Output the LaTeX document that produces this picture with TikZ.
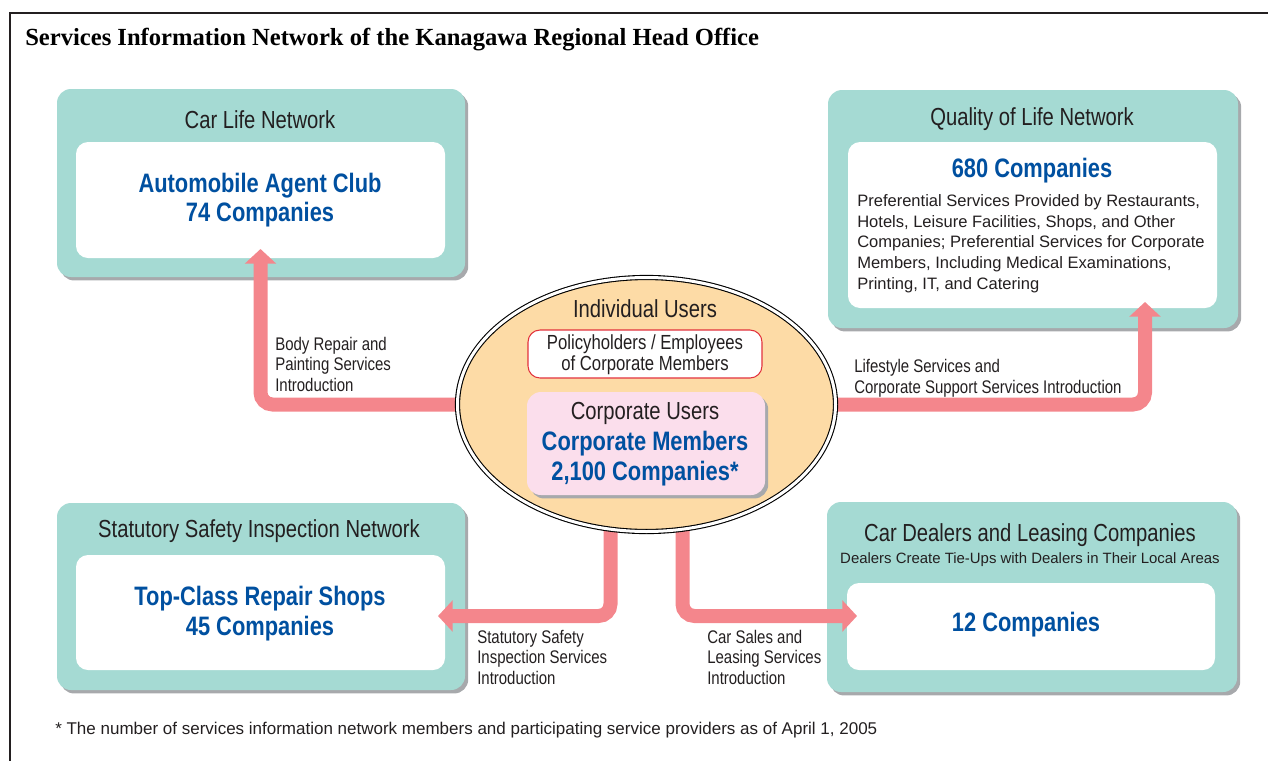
\documentclass[tikz,border=0pt]{standalone}
\usepackage{fontspec}
\setmainfont{Liberation Sans}[FakeStretch=0.82]
\newfontfamily\widefont{Liberation Sans}
\newfontfamily\titlefont{Liberation Serif}
\usetikzlibrary{calc,shapes.geometric,shadows,arrows.meta}
\edef\pxl{0.75pt}
\definecolor{netteal}{RGB}{165,218,211}
\definecolor{shadowgrey}{RGB}{167,169,172}
\definecolor{flowpink}{RGB}{244,134,140}
\definecolor{hubpeach}{RGB}{253,219,166}
\definecolor{corppink}{RGB}{251,222,236}
\definecolor{polred}{RGB}{226,50,60}
\definecolor{numblue}{RGB}{0,80,160}
\definecolor{textdark}{RGB}{35,31,32}
\tikzset{
  netbox/.style={fill=netteal, rounded corners=14*\pxl, inner sep=0, outer sep=0,
    general shadow={fill=shadowgrey, shadow xshift=2.4pt, shadow yshift=-2.6pt}},
  netinner/.style={fill=white, rounded corners=12*\pxl, inner sep=0, outer sep=0},
  nettitle/.style={text=textdark, inner sep=0, font=\fontsize{18.5pt}{21pt}\selectfont},
  bignum/.style={text=numblue, inner sep=0, align=center, font=\bfseries\fontsize{20pt}{22pt}\selectfont},
  smalltext/.style={text=textdark, inner sep=0, align=left, font=\fontsize{13.7pt}{15.3pt}\selectfont},
  plaintext/.style={text=textdark, inner sep=0, align=left, font=\widefont\fontsize{12.4pt}{15.5pt}\selectfont},
  flow/.style={draw=flowpink, line width=14*\pxl, rounded corners=9pt, -{Triangle[width=23pt,length=11pt]}}
}
\pgfdeclarelayer{front}
\pgfsetlayers{main,front}

\begin{document}
\begin{tikzpicture}[x=0.75pt, y=-0.75pt]
\useasboundingbox (0,0) rectangle (1268,761);
\draw[textdark, line width=1.1pt] (1268,13) -| (10,761);
\node[anchor=base west, inner sep=0, text=black, font=\titlefont\bfseries\fontsize{18.45pt}{20pt}\selectfont] (title) at (25,45.5) {Services Information Network of the Kanagawa Regional Head Office};

% car life network
\node[netbox, minimum width=408*\pxl, minimum height=188*\pxl] (carlife) at (261,183) {};
\node[netinner, minimum width=369*\pxl, minimum height=116*\pxl] (carlifein) at (260.5,200) {};
\node[nettitle, anchor=base] (carlifetitle) at (260,128) {Car Life Network};
\node[bignum, anchor=base] (carlifenum) at (260,221.7) {Automobile Agent Club\\74 Companies};

% quality of life network
\node[netbox, minimum width=410*\pxl, minimum height=238*\pxl] (qol) at (1033,209) {};
\node[netinner, minimum width=369*\pxl, minimum height=166*\pxl] (qolin) at (1032.5,225) {};
\node[nettitle, anchor=base] (qoltitle) at (1032,125) {Quality of Life Network};
\node[bignum, anchor=base] (qolnum) at (1032,177.7) {680 Companies};
\node[plaintext, anchor=base west] (qoltext) at (857,289.3) {Preferential Services Provided by Restaurants,\\Hotels, Leisure Facilities, Shops, and Other\\Companies; Preferential Services for Corporate\\Members, Including Medical Examinations,\\Printing, IT, and Catering};

% statutory safety inspection network
\node[netbox, minimum width=408*\pxl, minimum height=187*\pxl] (safety) at (261,596.5) {};
\node[netinner, minimum width=369*\pxl, minimum height=115*\pxl] (safetyin) at (260.5,612.5) {};
\node[nettitle, anchor=base] (safetytitle) at (259,537) {Statutory Safety Inspection Network};
\node[bignum, anchor=base] (safetynum) at (260,635) {Top-Class Repair Shops\\45 Companies};

% car dealers and leasing companies
\node[netbox, minimum width=410*\pxl, minimum height=190*\pxl] (dealer) at (1032,597) {};
\node[netinner, minimum width=368*\pxl, minimum height=87*\pxl] (dealerin) at (1031,626.5) {};
\node[nettitle, anchor=base] (dealertitle) at (1030,541.7) {Car Dealers and Leasing Companies};
\node[plaintext, anchor=base, font=\widefont\fontsize{11.2pt}{13pt}\selectfont] (dealersub) at (1030,563.3) {Dealers Create Tie-Ups with Dealers in Their Local Areas};
\node[bignum, anchor=base] (dealernum) at (1026,631.7) {12 Companies};

% users in the middle
\begin{pgfonlayer}{front}
\node[ellipse, draw=black, line width=1.1*\pxl, double=white, double distance=3*\pxl, fill=hubpeach,
  minimum width=378*\pxl, minimum height=254*\pxl, inner sep=0, outer sep=0] (users) at (646.5,404.5) {};
\node[nettitle, anchor=base] (indiv) at (645,317.7) {Individual Users};
\node[draw=polred, line width=0.8pt, fill=white, rounded corners=12*\pxl, minimum width=234*\pxl, minimum height=48*\pxl, inner sep=0] (polbox) at (645,354) {};
\node[smalltext, anchor=base, align=center, font=\fontsize{15.3pt}{15.75pt}\selectfont] (poltext) at (645,370) {Policyholders / Employees\\of Corporate Members};
\node[netbox, fill=corppink, rounded corners=14*\pxl, minimum width=238*\pxl, minimum height=103*\pxl] (corpbox) at (646,443.5) {};
\node[nettitle, anchor=base] (corptitle) at (645,419) {Corporate Users};
\node[bignum, anchor=base] (corpnum) at (645,480) {Corporate Members\\2,100 Companies*};
\end{pgfonlayer}

% services introductions
\draw[flow] (users.center) -| ([yshift=6.75pt]carlifein.south);
\draw[flow] (users.center) -| ($(qolin.south east)+(-72,-6)$);
\draw[flow] ($(users.center)+(-36,0)$) |- ($(safetyin.east)+(-7,3.5)$);
\draw[flow] ($(users.center)+(36,0)$) |- ($(dealerin.west)+(10,-10.5)$);

\node[smalltext, anchor=base west] (bodylabel) at (275,391) {Body Repair and\\Painting Services\\Introduction};
\node[smalltext, anchor=base west] (lifelabel) at (854,393) {Lifestyle Services and\\Corporate Support Services Introduction};
\node[smalltext, anchor=base west] (safetylabel) at (477,684.3) {Statutory Safety\\Inspection Services\\Introduction};
\node[smalltext, anchor=base west] (saleslabel) at (707,684.3) {Car Sales and\\Leasing Services\\Introduction};

\node[plaintext, anchor=base west, font=\widefont\fontsize{12.75pt}{15pt}\selectfont] (footnote) at (55,734) {* The number of services information network members and participating service providers as of April 1, 2005};
\end{tikzpicture}
\end{document}
